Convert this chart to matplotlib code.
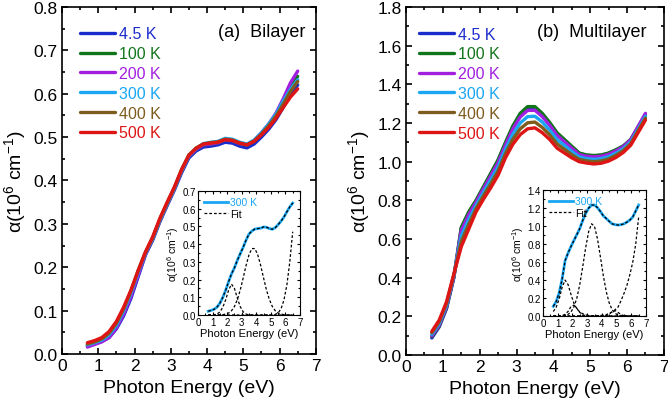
import matplotlib
matplotlib.use("Agg")
import matplotlib.pyplot as plt
from matplotlib.ticker import MultipleLocator

plt.rcParams['font.family'] = ['Liberation Sans', 'DejaVu Sans']
plt.rcParams['mathtext.fontset'] = 'custom'
plt.rcParams['mathtext.rm'] = 'Liberation Sans'
plt.rcParams['mathtext.it'] = 'Liberation Sans:italic'

# ---------------- data ----------------
energy = [0.7, 0.9, 1.1, 1.3, 1.5, 1.7, 1.9, 2.1, 2.3, 2.5, 2.7, 2.9, 3.1, 3.3, 3.5,
          3.7, 3.9, 4.1, 4.3, 4.5, 4.7, 4.9, 5.1, 5.3, 5.5, 5.7, 5.9, 6.1, 6.3, 6.5]

temps = ["4.5 K", "100 K", "200 K", "300 K", "400 K", "500 K"]
colors = ["#1a2ccc", "#11761a", "#a21fe0", "#1aa6f2", "#7d5c1e", "#dd1515"]

# Bilayer, alpha (10^6 cm^-1)
bi_4K = [0.020, 0.024, 0.029, 0.038, 0.058, 0.088, 0.128, 0.178, 0.228, 0.262, 0.305, 0.342, 0.378, 0.418, 0.452,
         0.468, 0.477, 0.479, 0.482, 0.488, 0.486, 0.479, 0.475, 0.484, 0.500, 0.518, 0.540, 0.568, 0.598, 0.620]
bi_100K = [0.019, 0.024, 0.030, 0.041, 0.063, 0.096, 0.137, 0.185, 0.231, 0.265, 0.308, 0.345, 0.381, 0.422, 0.456,
           0.472, 0.482, 0.484, 0.487, 0.494, 0.492, 0.485, 0.482, 0.491, 0.507, 0.527, 0.551, 0.582, 0.615, 0.640]
bi_200K = [0.016, 0.022, 0.028, 0.038, 0.060, 0.092, 0.133, 0.182, 0.230, 0.265, 0.308, 0.345, 0.381, 0.422, 0.456,
           0.472, 0.482, 0.484, 0.487, 0.494, 0.492, 0.485, 0.482, 0.492, 0.510, 0.530, 0.555, 0.588, 0.625, 0.652]
bi_300K = [0.021, 0.026, 0.032, 0.044, 0.066, 0.099, 0.140, 0.188, 0.232, 0.266, 0.309, 0.346, 0.382, 0.423, 0.457,
           0.474, 0.485, 0.488, 0.490, 0.497, 0.495, 0.488, 0.484, 0.493, 0.510, 0.530, 0.553, 0.583, 0.610, 0.632]
bi_400K = [0.023, 0.028, 0.035, 0.048, 0.071, 0.104, 0.145, 0.193, 0.234, 0.268, 0.311, 0.348, 0.384, 0.426, 0.459,
           0.475, 0.484, 0.487, 0.489, 0.495, 0.493, 0.486, 0.482, 0.491, 0.507, 0.526, 0.548, 0.576, 0.605, 0.628]
bi_500K = [0.026, 0.031, 0.038, 0.052, 0.075, 0.108, 0.147, 0.192, 0.235, 0.270, 0.313, 0.350, 0.385, 0.425, 0.458,
           0.474, 0.484, 0.486, 0.488, 0.494, 0.492, 0.486, 0.482, 0.490, 0.505, 0.522, 0.543, 0.568, 0.592, 0.611]

# Multilayer, alpha (10^6 cm^-1)
ml_4K = [0.088, 0.145, 0.240, 0.400, 0.655, 0.735, 0.797, 0.866, 0.936, 1.006, 1.095, 1.180, 1.245, 1.280, 1.280,
         1.246, 1.199, 1.147, 1.112, 1.077, 1.043, 1.033, 1.030, 1.033, 1.043, 1.060, 1.080, 1.113, 1.175, 1.240]
ml_100K = [0.095, 0.150, 0.245, 0.405, 0.660, 0.740, 0.800, 0.870, 0.940, 1.010, 1.100, 1.185, 1.250, 1.285, 1.285,
           1.250, 1.203, 1.150, 1.115, 1.080, 1.045, 1.035, 1.032, 1.035, 1.045, 1.062, 1.082, 1.115, 1.180, 1.245]
ml_200K = [0.099, 0.155, 0.250, 0.407, 0.643, 0.725, 0.790, 0.859, 0.927, 0.996, 1.086, 1.169, 1.231, 1.265, 1.266,
           1.233, 1.188, 1.136, 1.103, 1.070, 1.037, 1.028, 1.025, 1.028, 1.038, 1.056, 1.078, 1.113, 1.182, 1.250]
ml_300K = [0.107, 0.163, 0.258, 0.412, 0.615, 0.700, 0.773, 0.841, 0.906, 0.974, 1.064, 1.142, 1.200, 1.233, 1.235,
           1.205, 1.163, 1.114, 1.084, 1.053, 1.025, 1.016, 1.012, 1.016, 1.026, 1.044, 1.067, 1.102, 1.168, 1.235]
ml_400K = [0.115, 0.172, 0.267, 0.416, 0.587, 0.674, 0.756, 0.823, 0.885, 0.952, 1.042, 1.116, 1.170, 1.201, 1.205,
           1.177, 1.139, 1.092, 1.064, 1.036, 1.012, 1.004, 1.000, 1.004, 1.014, 1.033, 1.057, 1.093, 1.160, 1.225]
ml_500K = [0.122, 0.180, 0.275, 0.420, 0.560, 0.650, 0.740, 0.805, 0.865, 0.930, 1.020, 1.090, 1.140, 1.170, 1.175,
           1.150, 1.115, 1.070, 1.045, 1.020, 1.000, 0.993, 0.988, 0.992, 1.003, 1.022, 1.048, 1.085, 1.150, 1.215]

bilayer = [bi_4K, bi_100K, bi_200K, bi_300K, bi_400K, bi_500K]
multilayer = [ml_4K, ml_100K, ml_200K, ml_300K, ml_400K, ml_500K]

# Inset fit components (300 K)
bi_fit_p1 = [0.000, 0.000, 0.001, 0.005, 0.017, 0.043, 0.086, 0.140, 0.174, 0.150, 0.095, 0.047, 0.018, 0.005, 0.001,
             0.000, 0.000, 0.000, 0.000, 0.000, 0.000, 0.000, 0.000, 0.000, 0.000, 0.000, 0.000, 0.000, 0.000, 0.000]
bi_fit_p2 = [0.000, 0.000, 0.000, 0.000, 0.001, 0.002, 0.005, 0.011, 0.024, 0.048, 0.087, 0.141, 0.209, 0.280, 0.340,
             0.375, 0.375, 0.340, 0.280, 0.209, 0.141, 0.087, 0.048, 0.024, 0.011, 0.005, 0.002, 0.001, 0.000, 0.000]
bi_fit_p3 = [0.000, 0.000, 0.000, 0.000, 0.000, 0.000, 0.000, 0.000, 0.000, 0.000, 0.000, 0.000, 0.000, 0.000, 0.000,
             0.000, 0.000, 0.000, 0.000, 0.000, 0.000, 0.000, 0.000, 0.003, 0.012, 0.035, 0.085, 0.170, 0.300, 0.470]

ml_fit_pa = [0.050, 0.100, 0.190, 0.320, 0.400, 0.350, 0.240, 0.140, 0.080, 0.045, 0.025, 0.013, 0.006, 0.003, 0.001,
             0.000, 0.000, 0.000, 0.000, 0.000, 0.000, 0.000, 0.000, 0.000, 0.000, 0.000, 0.000, 0.000, 0.000, 0.000]
ml_fit_pb = [0.000, 0.000, 0.000, 0.003, 0.020, 0.050, 0.105, 0.120, 0.085, 0.040, 0.013, 0.003, 0.000, 0.000, 0.000,
             0.000, 0.000, 0.000, 0.000, 0.000, 0.000, 0.000, 0.000, 0.000, 0.000, 0.000, 0.000, 0.000, 0.000, 0.000]
ml_fit_pc = [0.000, 0.000, 0.000, 0.002, 0.006, 0.018, 0.045, 0.101, 0.200, 0.352, 0.550, 0.762, 0.938, 1.026, 0.996,
             0.859, 0.657, 0.446, 0.270, 0.144, 0.069, 0.029, 0.011, 0.004, 0.001, 0.000, 0.000, 0.000, 0.000, 0.000]
ml_fit_pd = [0.000, 0.000, 0.000, 0.000, 0.000, 0.000, 0.000, 0.000, 0.000, 0.000, 0.000, 0.000, 0.000, 0.000, 0.000,
             0.000, 0.000, 0.000, 0.005, 0.020, 0.050, 0.060, 0.040, 0.015, 0.004, 0.000, 0.000, 0.000, 0.000, 0.000]
ml_fit_pe = [0.000, 0.000, 0.000, 0.000, 0.000, 0.000, 0.000, 0.000, 0.000, 0.000, 0.000, 0.000, 0.000, 0.000, 0.003,
             0.004, 0.006, 0.010, 0.015, 0.030, 0.045, 0.070, 0.100, 0.170, 0.250, 0.340, 0.460, 0.600, 0.800, 1.100]

xticks = [0, 1, 2, 3, 4, 5, 6, 7]

# ---------------- figure ----------------
fig = plt.figure(figsize=(6.68, 4.06), dpi=100)

ylab = r'α(10$^{\mathregular{6}}$ cm$^{\mathregular{-1}}$)'


def style_axes(ax, ymaj, ymin, size, lmaj, lmin, width):
    ax.xaxis.set_major_locator(MultipleLocator(1))
    ax.xaxis.set_minor_locator(MultipleLocator(0.5))
    ax.yaxis.set_major_locator(MultipleLocator(ymaj))
    ax.yaxis.set_minor_locator(MultipleLocator(ymin))
    ax.tick_params(which='both', direction='in', top=True, right=True, width=width)
    ax.tick_params(which='major', length=lmaj, labelsize=size, pad=3)
    ax.tick_params(which='minor', length=lmin)
    for s in ax.spines.values():
        s.set_linewidth(width)


def main_panel(rect, data, ymax, ymaj, ymin, label, lx, ly, legx):
    ax = fig.add_axes(rect)
    for d, c, t in zip(data, colors, temps):
        ax.plot(energy, d, color=c, lw=2.4, label=t, solid_joinstyle='round', solid_capstyle='round')
    ax.set_xlim(0, 7)
    ax.set_ylim(0, ymax)
    ax.set_xticks(xticks)
    style_axes(ax, ymaj, ymin, 12.5, 4.5, 2.5, 1.2)
    ax.yaxis.set_major_formatter(matplotlib.ticker.FormatStrFormatter('%.1f'))
    ax.set_xlabel('Photon Energy (eV)', fontsize=14, labelpad=4)
    ax.set_ylabel(ylab, fontsize=14, labelpad=4)
    leg = ax.legend(loc='upper left', bbox_to_anchor=(legx, 0.962), frameon=False, fontsize=11.5,
                    handlelength=2.2, handletextpad=0.25, labelspacing=0.3, borderaxespad=0)
    for txt, c in zip(leg.get_texts(), colors):
        txt.set_color(c)
    ax.text(lx, ly, label, transform=ax.transAxes, ha='right', va='center', fontsize=13)
    return ax


def inset_panel(rect, curve, comps, ymax, ymaj, ymin):
    ax = fig.add_axes(rect)
    ax.plot(energy, curve, color=colors[3], lw=2.0, label='300 K')
    ax.plot(energy, curve, color='black', lw=0.9, ls=(0, (2.2, 1.6)), label='Fit')
    for cp in comps:
        ax.plot(energy, cp, color='black', lw=0.9, ls=(0, (2.2, 1.6)))
    ax.set_xlim(0, 7)
    ax.set_ylim(0, ymax)
    ax.set_xticks(xticks)
    style_axes(ax, ymaj, ymin, 7, 2.5, 1.3, 0.8)
    ax.tick_params(which='major', pad=1.5)
    ax.yaxis.set_major_formatter(matplotlib.ticker.FormatStrFormatter('%.1f'))
    ax.set_xlabel('Photon Energy (eV)', fontsize=8, labelpad=1)
    ax.set_ylabel(ylab, fontsize=7.5, labelpad=1)
    leg = ax.legend(loc='upper left', bbox_to_anchor=(0.0, 1.0), frameon=False, fontsize=7.5,
                    handlelength=2.3, handletextpad=0.2, labelspacing=0.15, borderaxespad=0.2)
    leg.get_texts()[0].set_color(colors[3])
    return ax


main_panel([0.0928, 0.1256, 0.380, 0.855], bilayer, 0.8, 0.1, 0.05, '(a)  Bilayer', 0.957, 0.928, 0.045)
main_panel([0.6078, 0.1232, 0.386, 0.857], multilayer, 1.8, 0.2, 0.1, '(b)  Multilayer', 0.934, 0.931, 0.025)

inset_panel([0.2964, 0.2217, 0.1527, 0.3054], bi_300K, [bi_fit_p1, bi_fit_p2, bi_fit_p3], 0.7, 0.1, 0.05)
inset_panel([0.8129, 0.2192, 0.1542, 0.3100], ml_300K,
            [ml_fit_pa, ml_fit_pb, ml_fit_pc, ml_fit_pd, ml_fit_pe], 1.4, 0.2, 0.1)

fig.savefig('out.png', dpi=100)
